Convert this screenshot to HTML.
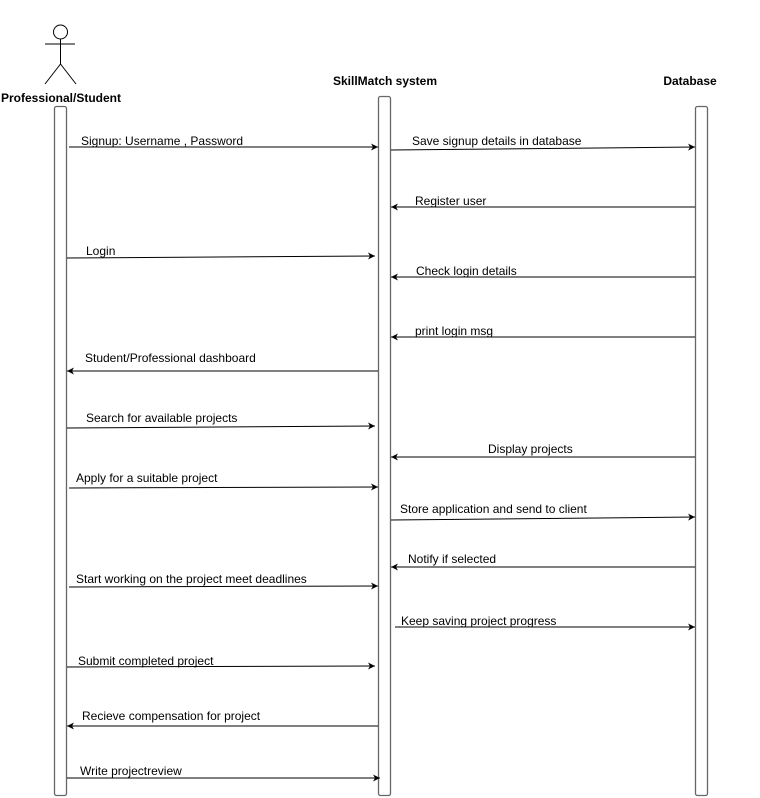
<!DOCTYPE html>
<html><head><meta charset="utf-8"><style>
html,body{margin:0;padding:0;background:#fff;}
svg{display:block;}
text{font-family:"Liberation Sans",Arial,sans-serif;font-size:12px;fill:#000;}
.b{font-weight:bold;}
</style></head><body>
<svg width="760" height="798" viewBox="0 0 760 798" xmlns="http://www.w3.org/2000/svg">
<defs>
<marker id="a" markerWidth="8" markerHeight="8" refX="7" refY="4" orient="auto" markerUnits="userSpaceOnUse">
<path d="M0,0.5 L7,4 L0,7.5 L2,4 Z" fill="#000"/>
</marker>
</defs>
<!-- actor -->
<g stroke="#000" stroke-width="1" fill="none">
<circle cx="60.5" cy="32" r="7" fill="#fff"/>
<line x1="60.5" y1="39" x2="60.5" y2="64"/>
<line x1="45" y1="44" x2="75" y2="44"/>
<line x1="60.5" y1="64" x2="45" y2="84"/>
<line x1="60.5" y1="64" x2="76" y2="84"/>
</g>
<text class="b" x="61" y="102" text-anchor="middle">Professional/Student</text>
<text class="b" x="385" y="85" text-anchor="middle">SkillMatch system</text>
<text class="b" x="690" y="85" text-anchor="middle">Database</text>
<!-- lifelines -->
<g fill="#fff" stroke="#666" stroke-width="1.3">
<rect x="54.5" y="106.5" width="12" height="689" rx="2"/>
<rect x="378.5" y="96.5" width="12" height="699" rx="2"/>
<rect x="695.5" y="106.5" width="12" height="689" rx="2"/>
</g>
<g stroke="#000" stroke-width="1" marker-end="url(#a)">
<line x1="69" y1="147" x2="378" y2="147"/>
<line x1="391" y1="150" x2="695" y2="147"/>
<line x1="695" y1="207" x2="391" y2="207"/>
<line x1="67" y1="258" x2="375" y2="256"/>
<line x1="695" y1="277" x2="391" y2="277"/>
<line x1="695" y1="337" x2="391" y2="337"/>
<line x1="378" y1="371" x2="67" y2="371"/>
<line x1="67" y1="428" x2="375" y2="426"/>
<line x1="695" y1="457" x2="391" y2="457"/>
<line x1="69" y1="488" x2="378" y2="487"/>
<line x1="391" y1="520" x2="695" y2="517"/>
<line x1="695" y1="567" x2="391" y2="567"/>
<line x1="69" y1="587" x2="378" y2="586"/>
<line x1="395" y1="627" x2="695" y2="627"/>
<line x1="67" y1="667" x2="375" y2="666"/>
<line x1="378" y1="726" x2="67" y2="726"/>
<line x1="67" y1="778" x2="380" y2="778"/>
</g>
<text x="81" y="145">Signup: Username , Password</text>
<text x="412" y="145">Save signup details in database</text>
<text x="415" y="205">Register user</text>
<text x="86" y="255">Login</text>
<text x="416" y="275">Check login details</text>
<text x="415" y="335">print login msg</text>
<text x="85" y="362">Student/Professional dashboard</text>
<text x="86" y="422">Search for available projects</text>
<text x="488" y="453">Display projects</text>
<text x="76" y="482">Apply for a suitable project</text>
<text x="400" y="513">Store application and send to client</text>
<text x="408" y="563">Notify if selected</text>
<text x="76" y="583">Start working on the project meet deadlines</text>
<text x="401" y="625">Keep saving project progress</text>
<text x="78" y="665">Submit completed project</text>
<text x="82" y="720">Recieve compensation for project</text>
<text x="80" y="775">Write projectreview</text>
</svg>
</body></html>
